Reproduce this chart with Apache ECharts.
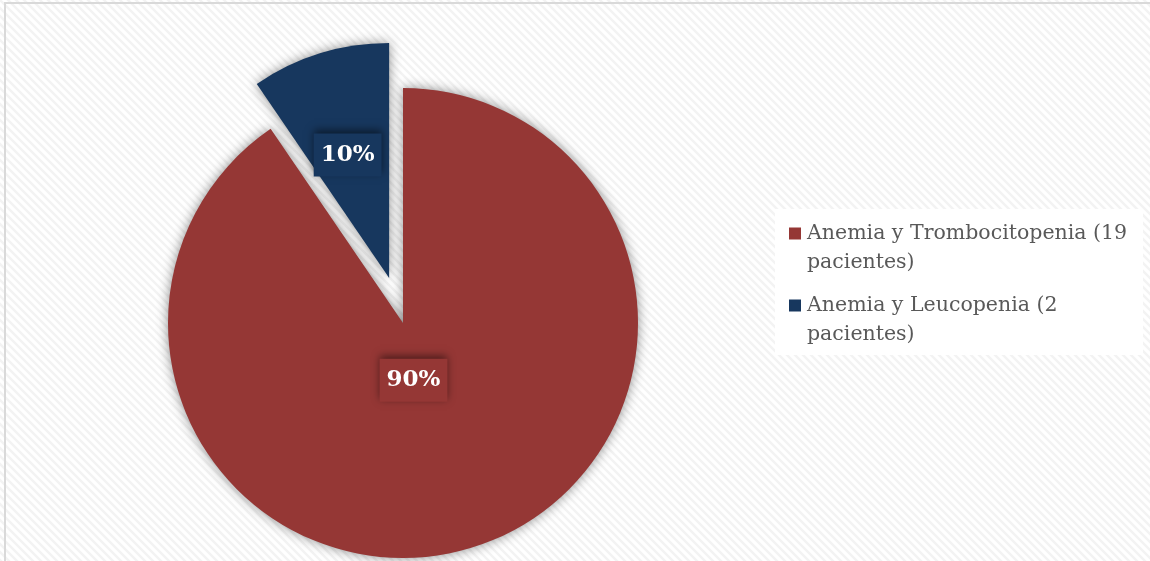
<!DOCTYPE html>
<html>
<head>
<meta charset="utf-8">
<title>Anemia y citopenias asociadas</title>
<script src="https://cdn.jsdelivr.net/npm/echarts@6/dist/echarts.min.js"></script>
<style>
  html, body { margin: 0; padding: 0; background: #ffffff; }
  #chart { width: 1150px; height: 561px; }
</style>
</head>
<body>
<div id="chart"></div>
<script>
// Pie data: patient counts per combination
const categories = [
  'Anemia y Trombocitopenia (19 pacientes)',
  'Anemia y Leucopenia (2 pacientes)'
];
const patients = [19, 2];
const sliceColors = ['#953735', '#17375E'];
const explodedIndex = 1;

// Diagonal light-grey hatching for the chart background
function hatchPattern() {
  const c = document.createElement('canvas');
  c.width = 8; c.height = 8;
  const g = c.getContext('2d');
  g.fillStyle = '#ffffff';
  g.fillRect(0, 0, 8, 8);
  g.strokeStyle = '#f3f3f3';
  g.lineWidth = 2.5;
  g.beginPath();
  g.moveTo(-2, -2); g.lineTo(10, 10);
  g.moveTo(-10, -2); g.lineTo(2, 10);
  g.moveTo(6, -2); g.lineTo(18, 10);
  g.stroke();
  return c;
}

// Split a legend name before its final word
function wrapName(name) {
  const k = name.lastIndexOf(' ');
  return [name.slice(0, k), name.slice(k + 1)];
}

// Label nudges along each slice's bisector
const labelShift = [[-25, -58], [-6, -8]];

const chart = echarts.init(document.getElementById('chart'), null, { renderer: 'canvas' });

const rich = {
  t: { fontFamily: 'DejaVu Serif', fontSize: 20.5, color: '#595959', lineHeight: 29, padding: [0, 0, 0, 6] },
  s: { width: 12, height: 12 }
};
sliceColors.forEach((col, i) => {
  rich['m' + i] = { width: 12, height: 12, backgroundColor: col };
});

chart.setOption({
  backgroundColor: { image: hatchPattern(), repeat: 'repeat' },
  animation: false,
  color: sliceColors,
  graphic: [
    {
      type: 'rect', silent: true, z: -1,
      shape: { x: 5, y: 3, width: 1160, height: 600 },
      style: { fill: 'none', stroke: '#d9d9d9', lineWidth: 2 }
    },
    {
      type: 'rect', silent: true, z: -1,
      shape: { x: 775, y: 209, width: 368, height: 146 },
      style: { fill: '#ffffff' }
    }
  ],
  legend: {
    orient: 'vertical',
    left: 784,
    top: 223,
    padding: 0,
    itemGap: 22,
    itemWidth: 0,
    itemHeight: 0,
    selectedMode: false,
    data: categories,
    formatter: function (name) {
      const i = categories.indexOf(name);
      const [a, b] = wrapName(name);
      return '{m' + i + '|}{t|' + a + '}\n{s|}{t|' + b + '}';
    },
    textStyle: { rich: rich }
  },
  series: [{
    type: 'pie',
    center: [403, 323],
    radius: 235,
    startAngle: 90,
    clockwise: true,
    percentPrecision: 0,
    selectedMode: 'single',
    selectedOffset: 47,
    emphasis: { disabled: true },
    itemStyle: {
      shadowBlur: 12,
      shadowColor: 'rgba(0,0,0,0.45)'
    },
    label: {
      show: true,
      position: 'inside',
      formatter: '{d}%',
      fontFamily: 'DejaVu Serif',
      fontWeight: 'bold',
      fontSize: 23,
      color: '#ffffff',
      padding: [10, 7],
      shadowBlur: 8,
      shadowOffsetY: -3,
      shadowColor: 'rgba(0,0,0,0.5)'
    },
    labelLine: { show: false },
    labelLayout: function (p) {
      const d = labelShift[p.dataIndex];
      return { dx: d[0], dy: d[1] };
    },
    data: categories.map((name, i) => ({
      name: name,
      value: patients[i],
      selected: i === explodedIndex,
      label: { backgroundColor: sliceColors[i] }
    }))
  }]
});
</script>
</body>
</html>
